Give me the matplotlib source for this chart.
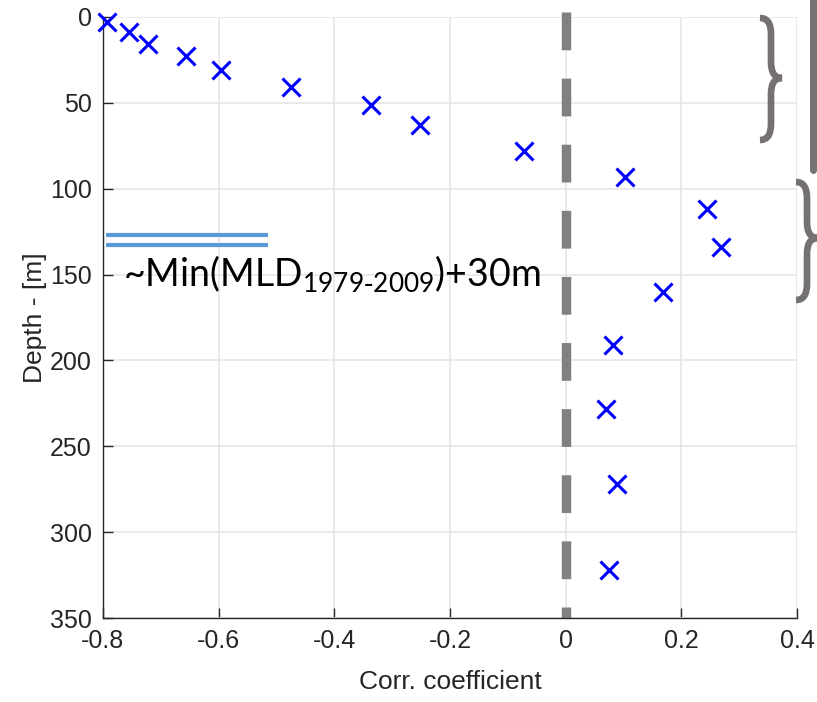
#!/usr/bin/env python3
"""Depth profile of correlation coefficient, with MLD marker and braces."""
import numpy as np
import matplotlib
matplotlib.use("Agg")
import matplotlib.pyplot as plt
from matplotlib.path import Path
from matplotlib.patches import PathPatch
from matplotlib.transforms import Affine2D

corr = [-0.793, -0.755, -0.722, -0.656, -0.596, -0.475, -0.336, -0.252,
        -0.072, 0.103, 0.245, 0.269, 0.169, 0.082, 0.070, 0.088, 0.075]
depth = [3, 9, 16, 23, 31, 41, 51, 63, 78, 93, 112, 134, 160, 191, 228,
         272, 322]

mld_x = [-0.795, -0.515]
mld_y = [127, 133]

xticks = [-0.8, -0.6, -0.4, -0.2, 0, 0.2, 0.4]
xticklabels = ["-0.8", "-0.6", "-0.4", "-0.2", "0", "0.2", "0.4"]
yticks = [0, 50, 100, 150, 200, 250, 300, 350]

AX_C = "#262626"
GRAY = "#767171"

plt.rcParams["font.family"] = ["Liberation Sans", "DejaVu Sans"]
plt.rcParams["axes.unicode_minus"] = False

W, H = 817, 702
fig = plt.figure(figsize=(W / 100, H / 100), dpi=100)
ax = fig.add_axes([103 / W, 1 - 618 / H, 694 / W, 601 / H])

ax.grid(True, color="#e6e6e6", lw=1.2, zorder=0)
ax.set_axisbelow(True)

# zero line
ax.plot([0, 0], [-3, 350], color="#808080", lw=6.8, ls=(0, (4.0, 3.0)),
        solid_capstyle="butt", dash_capstyle="butt", clip_on=False, zorder=2)

for y in mld_y:
    ax.plot(mld_x, [y, y], color="#5b9bd5", lw=3.0, solid_capstyle="butt",
            zorder=3)

ax.plot(corr, depth, "x", color="blue", ms=12.5, mew=2.2, clip_on=False,
        zorder=4)

ax.text(-0.765, 157, r"~Min(MLD$_{\mathregular{1979\text{-}2009}}$)+30m",
        fontsize=27, family=["Lato", "DejaVu Sans"], color="black",
        va="baseline", ha="left", zorder=5)

ax.set_xlim(-0.8, 0.4)
ax.set_ylim(350, 0)
ax.set_xticks(xticks)
ax.set_xticklabels(xticklabels)
ax.set_yticks(yticks)
ax.tick_params(direction="in", length=7, width=1, colors=AX_C,
               labelsize=18, pad=8)
for s in ["top", "right"]:
    ax.spines[s].set_visible(False)
for s in ["left", "bottom"]:
    ax.spines[s].set_color(AX_C)
    ax.spines[s].set_linewidth(1.0)

ax.set_xlabel("Corr. coefficient", fontsize=19, color=AX_C, labelpad=12)
ax.set_ylabel("Depth - [m]", fontsize=19, color=AX_C, labelpad=2)

# decorations in reference-pixel coordinates
px = Affine2D().scale(1 / W, -1 / H).translate(0, 1) + fig.transFigure


def brace(xl, xr, yt, yb, ym, r=16):
    xm = (xl + xr) / 2
    verts = [(xl, yt), (xm, yt), (xm, yt + r), (xm, ym - r), (xm, ym),
             (xr, ym), (xm, ym), (xm, ym + r), (xm, yb - r), (xm, yb),
             (xl, yb)]
    codes = [Path.MOVETO, Path.CURVE3, Path.CURVE3, Path.LINETO,
             Path.CURVE3, Path.CURVE3, Path.CURVE3, Path.CURVE3,
             Path.LINETO, Path.CURVE3, Path.CURVE3]
    fig.add_artist(PathPatch(Path(verts, codes), transform=px, fill=False,
                             edgecolor=GRAY, lw=4.8, capstyle="butt"))


brace(760, 782, 18, 140, 78)
brace(796, 818, 182, 300, 238)
fig.add_artist(plt.Line2D([813, 813], [-5, 170], transform=px, color=GRAY,
                          lw=5, solid_capstyle="round"))

fig.savefig("out.png", dpi=100)
